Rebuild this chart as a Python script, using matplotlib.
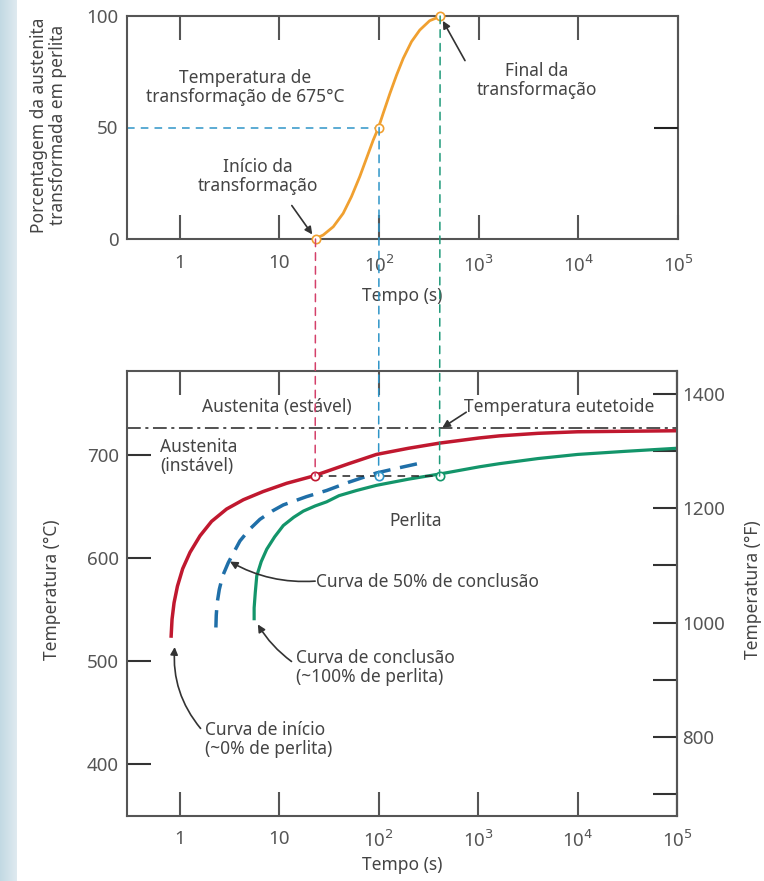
import numpy as np
import matplotlib
matplotlib.use("Agg")
import matplotlib.pyplot as plt
from matplotlib.patches import ConnectionPatch

plt.rcParams["font.family"] = ["Noto Sans", "DejaVu Sans"]

# ---- data ----
# top panel: % austenite -> pearlite at 675 C
frac_time = [22.6, 27.5, 34.7, 43.6, 52.8, 64, 75.8, 87.4, 98, 110, 128.5, 149.7, 174.7, 211.5,
             256, 322, 405]
frac_pct = [0, 1.8, 5.5, 11.5, 19, 28, 36.9, 44.4, 49.6, 56.4, 65.3, 73.5, 81, 88.5, 93.7, 97.9,
            99.7]
frac_marks_t = [23, 100, 410]
frac_marks_p = [0, 50, 100]

# bottom panel: TTT curves (time s, temperature C)
start_t = [0.818, 0.837, 0.877, 0.948, 1.07, 1.27, 1.6, 2.09, 2.96, 4.36, 6.9, 11.9, 22, 50, 95,
           200, 410, 1030, 1630, 4000, 1e4, 3e4, 1e5]
start_T = [523, 541, 557, 573, 590, 606, 622, 636, 648, 657, 665, 673, 680, 692, 701, 707, 712,
           717, 719, 721.5, 723, 723.5, 724]
half_t = [2.31, 2.33, 2.38, 2.5, 2.7, 3.08, 3.5, 4.03, 5, 6.4, 8.5, 11, 18.8, 30, 50, 95, 160, 275]
half_T = [533, 545, 557, 570, 583, 596, 606, 617, 628, 638, 646, 652, 660, 666, 674, 683, 688, 693]
end_t = [5.6, 5.6, 5.75, 5.95, 6.6, 7.5, 9, 11, 14, 17.5, 23, 30, 40, 60, 95, 200, 410, 1030,
         1630, 4000, 1e4, 3e4, 1e5]
end_T = [540, 552, 567, 583, 597, 609, 621, 632, 640, 646, 651, 655, 661, 666, 671, 677, 682,
         689, 692, 697, 701, 704, 707]

iso_T = 680          # isothermal line as drawn
eutectoid_T = 727
marks_t = [23, 100, 410]

xticks = [1, 10, 100, 1e3, 1e4, 1e5]
xticklabels = ["1", "10", "10$^2$", "10$^3$", "10$^4$", "10$^5$"]

RED, BLUE, GREEN, ORANGE = "#c0182f", "#1f6fa8", "#13956a", "#f0a030"
RED_D, BLUE_D, GREEN_D = "#d4406a", "#2f95c8", "#1f9a7a"
TXT, SPINE, TICKC = "#444444", "#555555", "#555555"
FS, TFS = 12.5, 13.5

W, H = 764, 881
fig = plt.figure(figsize=(W / 100, H / 100), dpi=100)


def px_axes(x0, y0, x1, y1):
    return fig.add_axes([x0 / W, 1 - y1 / H, (x1 - x0) / W, (y1 - y0) / H])


# light blue strip on the left
strip = px_axes(0, 0, 17, H)
strip.imshow(np.linspace(0, 1, 50)[None, :], aspect="auto",
             cmap=matplotlib.colors.LinearSegmentedColormap.from_list("s", ["#c2d9e3", "#dfeaf0"]))
strip.axis("off")

ax1 = px_axes(127, 16, 678, 239)
ax2 = px_axes(127, 371, 677, 816)

for ax, xpad in ((ax1, 11), (ax2, 10)):
    ax.set_xscale("log")
    ax.set_xlim(0.295, 1e5)
    ax.set_xticks(xticks)
    ax.set_xticklabels(xticklabels)
    ax.minorticks_off()
    for s in ax.spines.values():
        s.set_color(SPINE)
        s.set_linewidth(1.5)
    ax.tick_params(axis="x", which="major", direction="in", length=17, width=1.5, color=SPINE,
                   top=True, bottom=True, labelsize=TFS, labelcolor=TICKC, pad=xpad)

arrow_kw = dict(arrowstyle="-|>", color="#333333", lw=1.2, shrinkA=0, mutation_scale=11)

# ---- top panel ----
ax1.set_ylim(0, 100)
ax1.set_yticks([0, 50, 100])
ax1.tick_params(axis="y", direction="in", length=0, labelsize=TFS, labelcolor=TICKC, pad=6)
ax1.plot([0.295, 100], [50, 50], color=BLUE_D, ls=(0, (5, 4)), lw=1.1)
ax1.plot(frac_time, frac_pct, color=ORANGE, lw=2.0, zorder=3)
ax1.plot(frac_marks_t, frac_marks_p, ls="none", marker="o", ms=6, mfc="white", mec=ORANGE,
         mew=1.2, zorder=5, clip_on=False)
# right-side tick at 50
ax1r = ax1.twinx()
ax1r.set_ylim(0, 100)
ax1r.set_yticks([50])
ax1r.tick_params(axis="y", direction="in", length=17, width=1.5, color="#222222", labelright=False)
for s in ax1r.spines.values():
    s.set_visible(False)

ax1.set_ylabel("Porcentagem da austenita\ntransformada em perlita", fontsize=FS, color=TXT,
               linespacing=1.05, va="center")
ax1.yaxis.set_label_coords(-0.143, 0.51)
ax1.set_xlabel("Tempo (s)", fontsize=FS, color=TXT, va="center")
ax1.xaxis.set_label_coords(0.5, -0.256)

ax1.text(4.5, 68, "Temperatura de\ntransformação de 675°C", ha="center", va="center",
         fontsize=FS, color=TXT, linespacing=1.1)
ax1.text(6.1, 28, "Início da\ntransformação", ha="center", va="center", fontsize=FS,
         color=TXT, linespacing=1.1)
ax1.annotate("", xy=(23, 0), xytext=(13.3, 15), arrowprops=dict(arrow_kw, shrinkB=4))
ax1.text(3850, 71, "Final da\ntransformação", ha="center", va="center", fontsize=FS,
         color=TXT, linespacing=1.1)
ax1.annotate("", xy=(410, 100), xytext=(728, 80), arrowprops=dict(arrow_kw, shrinkB=4))

# ---- bottom panel ----
ax2.set_ylim(350, 782)
ax2.set_yticks([400, 500, 600, 700])
ax2.tick_params(axis="y", direction="in", length=17, width=1.5, color="#333333", right=False,
                labelsize=TFS, labelcolor=TICKC, pad=6)
ax2.axhline(eutectoid_T, color="#222222", lw=1.1, ls=(0, (9, 3, 2, 3)))
ax2.plot(start_t, start_T, color=RED, lw=2.5, solid_capstyle="butt")
ax2.plot(half_t, half_T, color=BLUE, lw=2.5, ls=(0, (5, 2.8)))
ax2.plot(end_t, end_T, color=GREEN, lw=2.3, solid_capstyle="butt")
ax2.plot([marks_t[0], marks_t[-1]], [iso_T, iso_T], color="#222222", lw=1.1, ls=(0, (5, 4)))
for t, c in zip(marks_t, [RED, BLUE_D, GREEN]):
    ax2.plot([t], [iso_T], ls="none", marker="o", ms=6, mfc="white", mec=c, mew=1.2, zorder=5)

ax2.set_ylabel("Temperatura (°C)", fontsize=FS, color=TXT, va="center")
ax2.yaxis.set_label_coords(-0.136, 0.508)
ax2.set_xlabel("Tempo (s)", fontsize=FS, color=TXT, va="center")
ax2.xaxis.set_label_coords(0.5, -0.110)

sec = ax2.secondary_yaxis("right", functions=(lambda c: c * 9 / 5 + 32, lambda f: (f - 32) * 5 / 9))
sec.set_yticks([800, 1000, 1200, 1400])
sec.set_yticks([700, 900, 1100, 1300], minor=True)
sec.tick_params(axis="y", which="both", direction="in", length=17, width=1.5, color="#333333",
                labelsize=TFS, labelcolor=TICKC, pad=4)
sec.spines["right"].set_color(SPINE)
sec.spines["right"].set_linewidth(1.5)
fig.text(753 / W, 1 - 590 / H, "Temperatura (°F)", rotation=90, ha="center", va="center",
         fontsize=FS, color=TXT)

ax2.text(9.4, 747, "Austenita (estável)", ha="center", va="center", fontsize=FS, color=TXT)
ax2.text(0.63, 699, "Austenita\n(instável)", ha="left", va="center", fontsize=FS, color=TXT,
         linespacing=1.1)
ax2.text(728, 747, "Temperatura eutetoide", ha="left", va="center", fontsize=FS, color=TXT)
ax2.annotate("", xy=(437, eutectoid_T), xytext=(760, 742), arrowprops=dict(arrow_kw, shrinkB=0))
ax2.text(234, 636, "Perlita", ha="center", va="center", fontsize=FS, color=TXT)
ax2.text(23.7, 577, "Curva de 50% de conclusão", ha="left", va="center", fontsize=FS, color=TXT)
ax2.annotate("", xy=(3.2, 597), xytext=(23, 578),
             arrowprops=dict(arrow_kw, shrinkB=0, connectionstyle="arc3,rad=-0.15"))
ax2.text(14.9, 494, "Curva de conclusão\n(~100% de perlita)", ha="left", va="center",
         fontsize=FS, color=TXT, linespacing=1.1)
ax2.annotate("", xy=(6.1, 536), xytext=(13.3, 500),
             arrowprops=dict(arrow_kw, shrinkB=0, connectionstyle="arc3,rad=-0.1"))
ax2.text(1.78, 424, "Curva de início\n(~0% de perlita)", ha="left", va="center", fontsize=FS,
         color=TXT, linespacing=1.1)
ax2.annotate("", xy=(0.89, 514), xytext=(1.62, 435),
             arrowprops=dict(arrow_kw, shrinkB=0, connectionstyle="arc3,rad=-0.2"))

# dashed drop lines linking both panels
for t, p, c in zip(frac_marks_t, frac_marks_p, [RED_D, BLUE_D, GREEN_D]):
    con = ConnectionPatch(xyA=(t, p), coordsA=ax1.transData, xyB=(t, iso_T), coordsB=ax2.transData,
                          color=c, lw=1.1, ls=(0, (5, 4)), zorder=1)
    fig.add_artist(con)

fig.savefig("out.png", dpi=100, facecolor="white")
